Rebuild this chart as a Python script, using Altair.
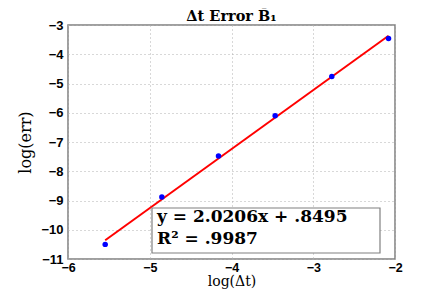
import altair as alt
import pandas as pd

log_dt = [-5.545, -4.852, -4.159, -3.466, -2.773, -2.079]
log_err = [-10.50, -8.88, -7.48, -6.10, -4.76, -3.46]
x_ticks = [-6, -5, -4, -3, -2]
y_ticks = [-11, -10, -9, -8, -7, -6, -5, -4, -3]
fit_text = ["y = 2.0206x + .8495", "R² = .9987"]
title_text = ["Δt Error B̄₁"]

df = pd.DataFrame({"x": log_dt, "y": log_err})

W, H = 327, 234
serif = "DejaVu Serif"
sans = "Liberation Sans"

xs = alt.Scale(domain=[-6, -2], nice=False, zero=False)
ys = alt.Scale(domain=[-11, -3], nice=False, zero=False)

xaxis = alt.Axis(values=x_ticks, format="d", grid=True, gridDash=[1, 3], gridColor="#b0b0b0",
                 domain=False, tickSize=0, labelPadding=2, labelFont=sans,
                 labelFontWeight="bold", labelFontSize=12.5, labelColor="black",
                 labelOverlap=False, labelFlush=False,
                 title="log(Δt)", titleFont=serif, titleFontSize=14,
                 titleFontWeight="normal", titleColor="black",
                 titleX=W / 2, titleY=26, titleAlign="center", titleBaseline="alphabetic")
yaxis = alt.Axis(values=y_ticks, format="d", grid=True, gridDash=[1, 3], gridColor="#b0b0b0",
                 domain=False, tickSize=0, labelPadding=5, labelFont=sans,
                 labelFontWeight="bold", labelFontSize=13, labelColor="black",
                 labelOverlap=False, labelFlush=False,
                 title="log(err)", titleFont=serif, titleFontSize=16,
                 titleFontWeight="normal", titleColor="black",
                 titleX=-43, titleY=H / 2, titleAngle=270,
                 titleAlign="center", titleBaseline="middle")

base = alt.Chart(df)

points = base.mark_circle(size=30, color="#0000ff", opacity=1).encode(
    x=alt.X("x:Q", scale=xs, axis=xaxis),
    y=alt.Y("y:Q", scale=ys, axis=yaxis),
)

fit = base.transform_regression("x", "y").mark_line(color="#ff0000", strokeWidth=2).encode(
    x=alt.X("x:Q", scale=xs, axis=xaxis),
    y=alt.Y("y:Q", scale=ys, axis=yaxis),
)

box = alt.Chart(pd.DataFrame({"a": [0]})).mark_rect(
    fill="white", stroke="#808080", strokeWidth=1.2
).encode(x=alt.value(84), x2=alt.value(312), y=alt.value(183), y2=alt.value(228))

txt_df = pd.DataFrame({"t": fit_text, "yy": [197, 219]})
labels = alt.Chart(txt_df).mark_text(
    align="left", baseline="alphabetic", font=serif, fontSize=17,
    fontWeight="bold", fontStyle="normal", color="black"
).encode(x=alt.value(89), y=alt.Y("yy:Q", scale=None), text="t:N")

title = alt.Chart(pd.DataFrame({"t": title_text})).mark_text(
    align="center", baseline="alphabetic", font=serif, fontSize=14.5,
    fontWeight="bold", color="black"
).encode(x=alt.value(W / 2), y=alt.value(-4), text="t:N")

chart = alt.layer(fit, points, box, labels, title).properties(
    width=W, height=H,
    autosize=alt.AutoSizeParams(type="none"),
    padding={"left": 60, "top": 17, "right": 33, "bottom": 30},
).configure_view(stroke="#808080", strokeWidth=1.5)

chart.save("out.html", embed_options={"renderer": "svg", "actions": False})
